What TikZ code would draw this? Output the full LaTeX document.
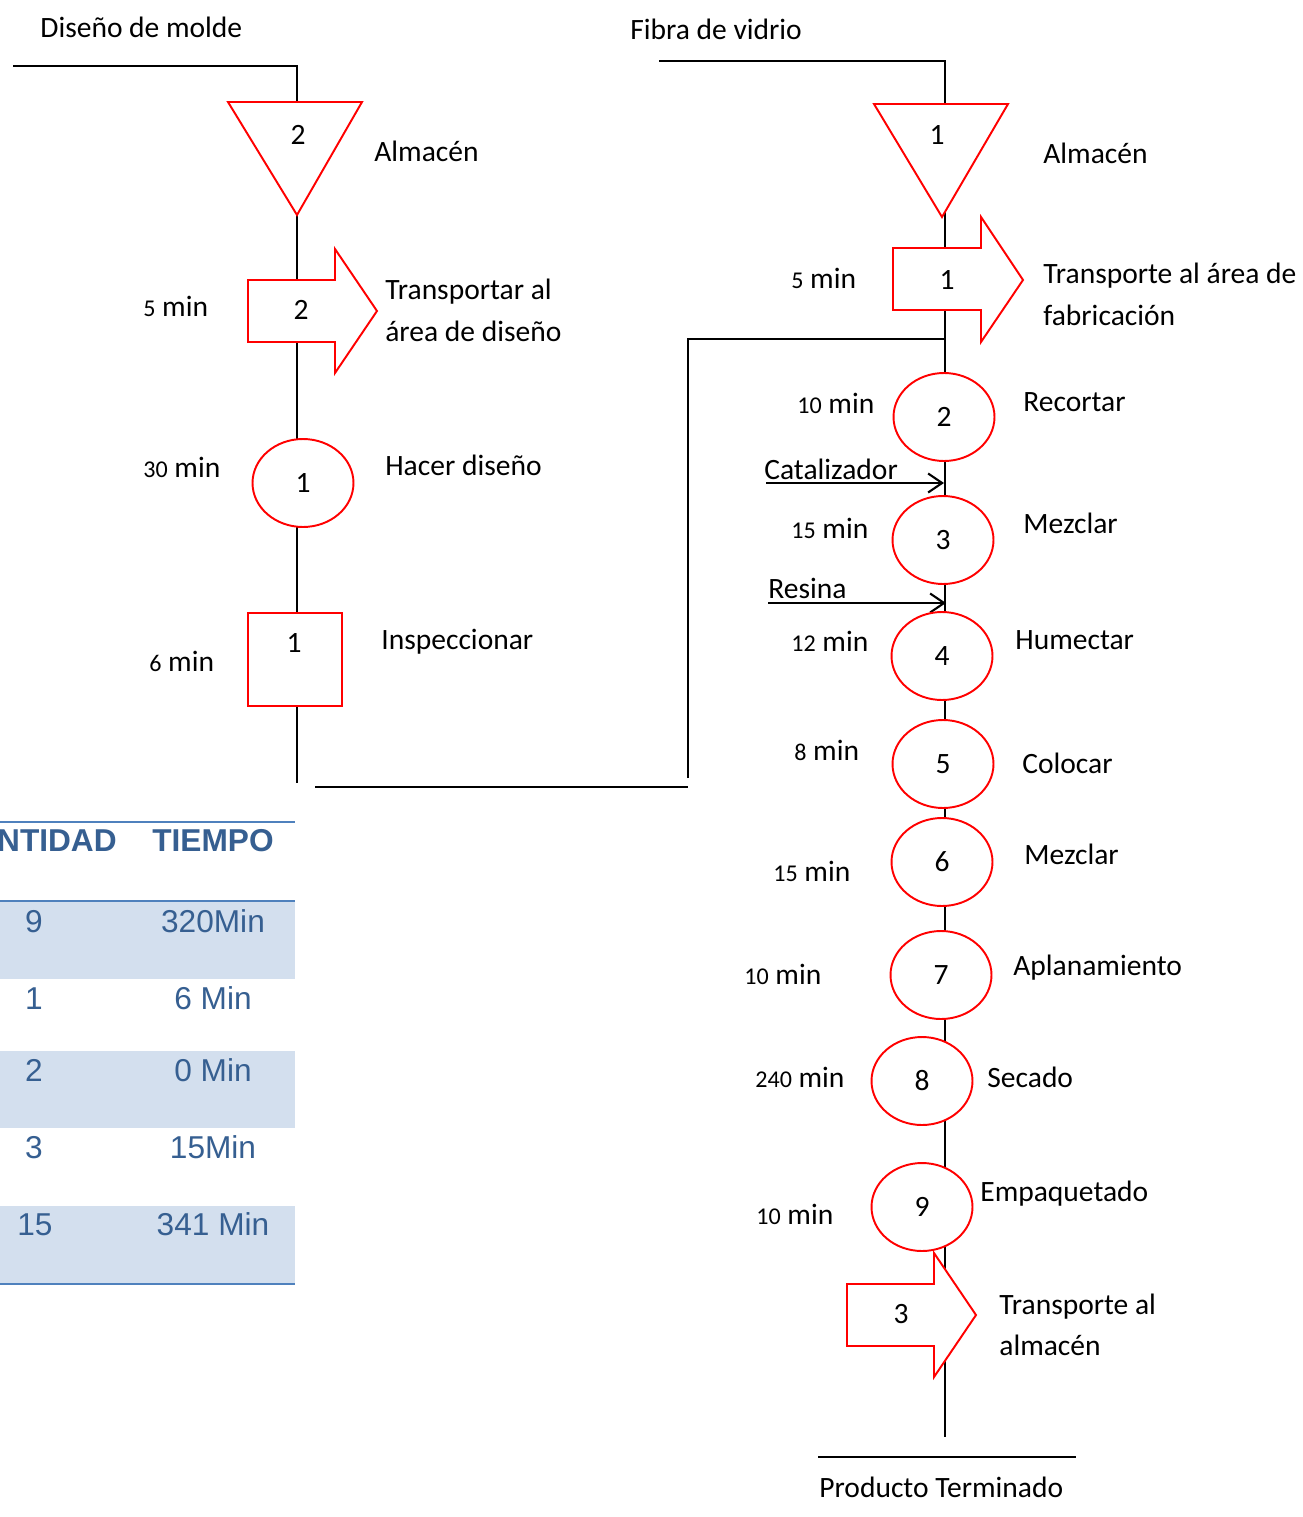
\documentclass[tikz,border=0pt]{standalone}
\usepackage{fontspec}
\setmainfont{Carlito}
\newfontfamily\tablefont{Liberation Sans}
\usetikzlibrary{shapes.geometric,arrows.meta}
\newcommand\lblsize{\fontsize{16.8}{19}\selectfont}
\newcommand\digsize{\fontsize{13.7}{16}\selectfont}
\newcommand\tblsize{\tablefont\fontsize{18}{21}\selectfont}
\definecolor{tblline}{RGB}{79,129,189}
\definecolor{tblfill}{RGB}{211,223,238}
\definecolor{tbltext}{RGB}{54,95,145}
\begin{document}
\begin{tikzpicture}[x=0.02cm,y=-0.02cm,
  flow/.style={line width=1.1pt,black},
  redshape/.style={draw=red,line width=1.1pt,fill=white,line join=miter},
  oper/.style={ellipse,draw=red,line width=1.1pt,fill=white,minimum width=2.02cm,minimum height=1.76cm,inner sep=0pt},
  inspect/.style={rectangle,draw=red,line width=1.1pt,fill=white,minimum width=1.88cm,minimum height=1.86cm,inner sep=0pt},
  txt/.style={anchor=base west,inner sep=0pt,font=\lblsize},
  num/.style={inner sep=0pt,font=\lblsize},
  feed/.style={line width=1.2pt,-{Straight Barb[length=2.8mm,width=3.8mm,line width=1.2pt]}},
  thead/.style={anchor=base,inner sep=0pt,font=\tblsize\bfseries,text=tbltext},
  tcell/.style={anchor=base,inner sep=0pt,font=\tblsize,text=tbltext}]
\clip (0,0) rectangle (1302,1517);
\fill[white] (0,0) rectangle (1302,1517);

% ---------- left line: mould design ----------
\coordinate (Lstart) at (13,66);
\coordinate (Lcorner) at (297,66);
\coordinate (Lend) at (297,783);
\draw[flow] (Lstart) -- (Lcorner) -- (Lend);
\node[txt] (Ltitle) at (40,38) {Diseño de molde};

% storage triangle
\draw[redshape] (228,102) -- (362,102) -- (297,215) -- cycle;
\node[num] (Ls) at (298,135) {2};
\node[txt] at (374,162) {Almacén};

% transport arrow
\draw[redshape] (248,280) -- (335,280) -- (335,249) -- (377,311) -- (335,373) -- (335,342) -- (248,342) -- cycle;
\node[num] (Lt) at (301,310) {2};
\node[txt] at (143,316) {{\digsize 5} min};
\node[txt] at (385,299) {Transportar al};
\node[txt] at (385,341) {área de diseño};

% operation
\node[oper] (Lo1) at (303,483) {};
\node[num] at (Lo1) {1};
\node[txt] at (143,477) {{\digsize 30} min};
\node[txt] at (385,475) {Hacer diseño};

% inspection
\node[inspect] (Li1) at (295,659.5) {};
\node[num] at (294,643) {1};
\node[txt] at (149,671) {{\digsize 6} min};
\node[txt] at (381,649) {Inspeccionar};

% joining line to the right column
\coordinate (J0) at (315,787);
\coordinate (J1) at (688,787);
\coordinate (J2) at (688,778);
\coordinate (J3) at (688,339);
\coordinate (J4) at (945,339);
\draw[flow] (J0) -- (J1);
\draw[flow] (J2) -- (J3) -- (J4);

% ---------- right line: glass fibre ----------
\coordinate (Rstart) at (659,61);
\coordinate (Rcorner) at (945,61);
\coordinate (Rend) at (945,1437);
\draw[flow] (Rstart) -- (Rcorner) -- (Rend);
\node[txt] (Rtitle) at (630,40) {Fibra de vidrio};

% storage triangle
\draw[redshape] (874,104) -- (1008,104) -- (942,217) -- cycle;
\node[num] (Rs) at (937,135) {1};
\node[txt] at (1043,164) {Almacén};

% transport arrow 1
\draw[redshape] (893,248) -- (981,248) -- (981,217) -- (1023,280) -- (981,342) -- (981,310) -- (893,310) -- cycle;
\node[num] (Rt1) at (947,280) {1};
\node[txt] at (791,288) {{\digsize 5} min};
\node[txt] at (1043,283) {Transporte al área de};
\node[txt] at (1043,325) {fabricación};

% additions
\coordinate (cat0) at (766,483);
\coordinate (cat1) at (944,483);
\draw[feed] (cat0) -- (cat1);
\node[txt] at (764,479) {Catalizador};
\coordinate (res0) at (768,603);
\coordinate (res1) at (946,603);
\draw[feed] (res0) -- (res1);
\node[txt] at (768,598) {Resina};

% operations
\node[oper] (O2) at (944,417) {};  \node[num] at (O2) {2};
\node[txt] at (797,413) {{\digsize 10} min};
\node[txt] at (1023,411) {Recortar};

\node[oper] (O3) at (943,540) {};  \node[num] at (O3) {3};
\node[txt] at (791,538) {{\digsize 15} min};
\node[txt] at (1023,533) {Mezclar};

\node[oper] (O4) at (942,656) {};  \node[num] at (O4) {4};
\node[txt] at (791,651) {{\digsize 12} min};
\node[txt] at (1015,649) {Humectar};

\node[oper] (O5) at (943,764) {};  \node[num] at (O5) {5};
\node[txt] at (794,760) {{\digsize 8} min};
\node[txt] at (1022,773) {Colocar};

\node[oper] (O6) at (942,862) {};  \node[num] at (O6) {6};
\node[txt] at (773,881) {{\digsize 15} min};
\node[txt] at (1024,864) {Mezclar};

\node[oper] (O7) at (941,975) {};  \node[num] at (O7) {7};
\node[txt] at (744,984) {{\digsize 10} min};
\node[txt] at (1013,975) {Aplanamiento};

\node[oper] (O8) at (922,1081) {}; \node[num] at (O8) {8};
\node[txt] at (755,1087) {{\digsize 240} min};
\node[txt] at (987,1087) {Secado};

\node[oper] (O9) at (922,1207) {}; \node[num] at (O9) {9};
\node[txt] at (756,1224) {{\digsize 10} min};
\node[txt] at (980,1201) {Empaquetado};

% transport arrow 3
\draw[redshape] (847,1284) -- (934,1284) -- (934,1253) -- (976,1315) -- (934,1377) -- (934,1346) -- (847,1346) -- cycle;
\node[num] (Rt3) at (901,1314) {3};
\node[txt] at (999,1314) {Transporte al};
\node[txt] at (999,1355) {almacén};

% finished product
\coordinate (P0) at (818,1457);
\coordinate (P1) at (1076,1457);
\draw[flow] (P0) -- (P1);
\node[txt] (prod) at (819,1497) {Producto Terminado};

% ---------- summary table ----------
\fill[tblfill] (0,901) rectangle (295,979);
\fill[tblfill] (0,1051) rectangle (295,1128);
\fill[tblfill] (0,1206) rectangle (295,1284);
\draw[tblline,line width=1.3pt] (0,822) -- (295,822);
\draw[tblline,line width=1.6pt] (0,901) -- (295,901);
\draw[tblline,line width=1.6pt] (0,1284) -- (295,1284);
\node[thead,anchor=base east] at (117,851) {CANTIDAD};
\node[thead] at (213,851) {TIEMPO};
\node[tcell] at (34,932) {9};   \node[tcell] at (213,932) {320Min};
\node[tcell] at (34,1009) {1};  \node[tcell] at (213,1009) {6 Min};
\node[tcell] at (34,1081) {2};  \node[tcell] at (213,1081) {0 Min};
\node[tcell] at (34,1158) {3};  \node[tcell] at (213,1158) {15Min};
\node[tcell] at (35,1235) {15}; \node[tcell] at (213,1235) {341 Min};
\end{tikzpicture}
\end{document}
